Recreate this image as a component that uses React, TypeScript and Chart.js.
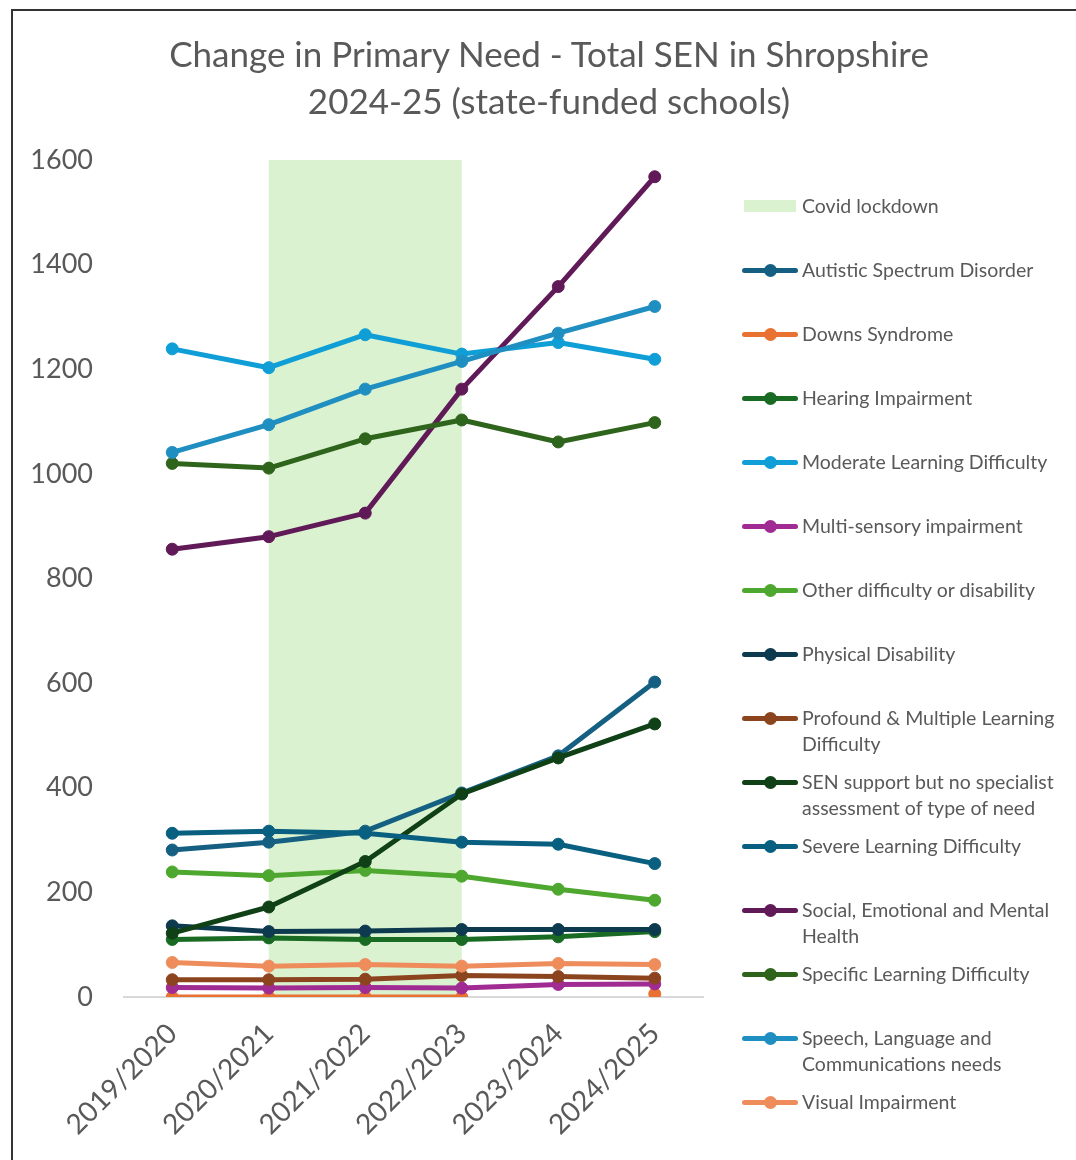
import React, { useEffect, useRef } from "react";
import { Chart, registerables } from "chart.js";

Chart.register(...registerables);

const titleLines = ["Change in Primary Need - Total SEN in Shropshire", "2024-25 (state-funded schools)"];
const categories = ["2019/2020", "2020/2021", "2021/2022", "2022/2023", "2023/2024", "2024/2025"];
const covidRange = ["2020/2021", "2022/2023"];
const covidLabel = "Covid lockdown";
const yTicks = [0, 200, 400, 600, 800, 1000, 1200, 1400, 1600];

const seriesNames = [
  "Autistic Spectrum Disorder",
  "Downs Syndrome",
  "Hearing Impairment",
  "Moderate Learning Difficulty",
  "Multi-sensory impairment",
  "Other difficulty or disability",
  "Physical Disability",
  "Profound & Multiple Learning Difficulty",
  "SEN support but no specialist assessment of type of need",
  "Severe Learning Difficulty",
  "Social, Emotional and Mental Health",
  "Specific Learning Difficulty",
  "Speech, Language and Communications needs",
  "Visual Impairment",
];

const asd = [281, 296, 317, 390, 461, 602];
const downs = [0, 0, 0, 0, null, 6];
const hearing = [110, 113, 110, 110, 115, 125];
const mld = [1239, 1203, 1266, 1229, 1251, 1219];
const msi = [18, 17, 18, 17, 24, 25];
const other = [239, 232, 242, 231, 206, 185];
const pd = [136, 125, 126, 129, 129, 129];
const pmld = [33, 33, 34, 41, 39, 36];
const senSupport = [122, 172, 259, 388, 457, 522];
const sld = [313, 317, 313, 296, 292, 255];
const semh = [856, 880, 925, 1162, 1358, 1568];
const spld = [1020, 1011, 1067, 1103, 1061, 1098];
const slcn = [1041, 1094, 1162, 1215, 1269, 1320];
const vi = [66, 59, 62, 59, 64, 62];

const seriesValues = [asd, downs, hearing, mld, msi, other, pd, pmld, senSupport, sld, semh, spld, slcn, vi];

const seriesColors = [
  "#156082",
  "#E97132",
  "#196B24",
  "#0F9ED5",
  "#A02B93",
  "#4EA72E",
  "#0D3A4E",
  "#8C441E",
  "#0F4016",
  "#095F80",
  "#601A58",
  "#2F641C",
  "#1F8EC0",
  "#EE8D5B",
];
const covidColor = "#DAF2D0";
const textColor = "#595959";
const fontFamily = "Lato, 'Open Sans', sans-serif";

const covidBand = {
  id: "covidBand",
  beforeDraw(chart: any) {
    const { ctx, chartArea, scales } = chart;
    const x = scales.x;
    const x1 = x.getPixelForValue(categories.indexOf(covidRange[0]));
    const x2 = x.getPixelForValue(categories.indexOf(covidRange[1]));
    ctx.save();
    ctx.fillStyle = covidColor;
    ctx.fillRect(x1, chartArea.top, x2 - x1, chartArea.bottom - chartArea.top - 1);
    ctx.restore();
  },
};

export default function App() {
  const canvasRef = useRef<HTMLCanvasElement | null>(null);

  useEffect(() => {
    if (!canvasRef.current) return;
    const chart = new Chart(canvasRef.current, {
      type: "line",
      data: {
        labels: categories,
        datasets: seriesNames.map((name, i) => ({
          label: name,
          data: seriesValues[i],
          borderColor: seriesColors[i],
          backgroundColor: seriesColors[i],
          pointBackgroundColor: seriesColors[i],
          pointBorderColor: seriesColors[i],
          borderWidth: 5,
          pointRadius: 6,
          pointBorderWidth: 1,
          borderJoinStyle: "round" as const,
          borderCapStyle: "round" as const,
          tension: 0,
          spanGaps: false,
          fill: false,
          order: seriesNames.length - i,
        })),
      },
      plugins: [covidBand],
      options: {
        animation: false,
        responsive: false,
        maintainAspectRatio: false,
        layout: { padding: { left: 0, top: 160, right: 1076 - 703, bottom: 0 } },
        plugins: {
          legend: { display: false },
          title: { display: false },
          tooltip: { enabled: false },
        },
        scales: {
          x: {
            type: "category",
            offset: true,
            grid: { display: false, drawTicks: false },
            border: { display: true, color: "#D9D9D9", width: 2 },
            ticks: {
              color: textColor,
              font: { family: fontFamily, size: 28 },
              minRotation: 45,
              maxRotation: 45,
              padding: 20,
              autoSkip: false,
            },
            afterFit(scale: any) {
              scale.height = 1160 - 997;
            },
          },
          y: {
            type: "linear",
            min: 0,
            max: 1600,
            afterBuildTicks(scale: any) {
              scale.ticks = yTicks.map((v) => ({ value: v }));
            },
            grid: { display: false, drawTicks: false },
            border: { display: false },
            ticks: {
              color: textColor,
              font: { family: fontFamily, size: 27 },
              padding: 31,
              callback: (v: any) => String(v),
            },
            afterFit(scale: any) {
              scale.width = 124;
            },
          },
        },
      },
    });
    return () => chart.destroy();
  }, []);

  const legendTop = 193;
  const rowPitch = 64;

  return (
    <div style={{ position: "absolute", left: 0, top: 0, width: 1076, height: 1160, overflow: "hidden", background: "#fff", fontFamily }}>
      <div style={{ position: "absolute", left: 11, top: 9, width: 1200, height: 1300, border: "2px solid #333", boxSizing: "border-box" }} />
      <canvas ref={canvasRef} width={1076} height={1160} style={{ position: "absolute", left: 0, top: 0, width: 1076, height: 1160 }} />
      <div style={{ position: "absolute", left: 0, top: 30, width: 1098, textAlign: "center", color: textColor, fontSize: 35, lineHeight: "47px" }}>
        {titleLines.map((t) => (
          <div key={t}>{t}</div>
        ))}
      </div>
      <div style={{ position: "absolute", left: 742, top: 0, width: 334, color: textColor, fontSize: 19.5, lineHeight: "26px" }}>
        <div style={{ position: "absolute", top: legendTop, left: 0, display: "flex", alignItems: "flex-start" }}>
          <div style={{ width: 60, height: 26, position: "relative", flex: "none" }}>
            <div style={{ position: "absolute", left: 2, top: 7, width: 52, height: 12, background: covidColor }} />
          </div>
          <div style={{ whiteSpace: "nowrap" }}>{covidLabel}</div>
        </div>
        {seriesNames.map((name, i) => (
          <div key={name} style={{ position: "absolute", top: legendTop + rowPitch * (i + 1), left: 0, display: "flex", alignItems: "flex-start" }}>
            <div style={{ width: 60, height: 26, position: "relative", flex: "none" }}>
              <div style={{ position: "absolute", left: 0, top: 11, width: 56, height: 5, borderRadius: 3, background: seriesColors[i] }} />
              <div style={{ position: "absolute", left: 22, top: 7, width: 13, height: 13, borderRadius: "50%", background: seriesColors[i] }} />
            </div>
            <div style={{ width: 272 }}>{name}</div>
          </div>
        ))}
      </div>
    </div>
  );
}
